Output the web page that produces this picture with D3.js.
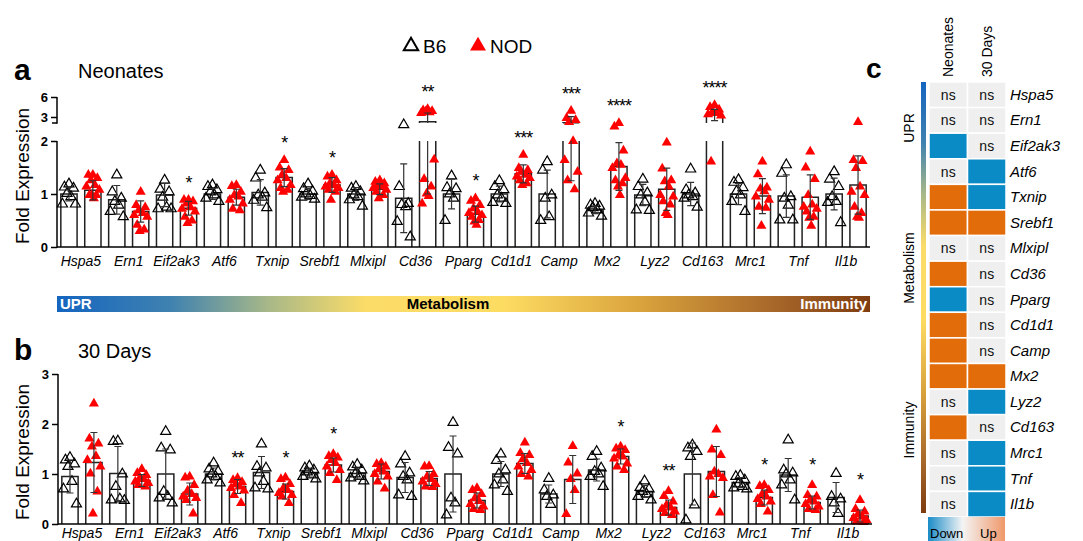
<!DOCTYPE html>
<html>
<head>
<meta charset="utf-8">
<script src="https://cdn.jsdelivr.net/npm/d3@7"></script>
<style>
  body { margin: 0; background: #fff; }
  svg { display: block; font-family: Arial, "Liberation Sans", sans-serif; }
</style>
</head>
<body>
<svg id="chart" width="1083" height="541"></svg>
<script>
const genes = ['Hspa5', 'Ern1', 'Eif2ak3', 'Atf6', 'Txnip', 'Srebf1', 'Mlxipl', 'Cd36', 'Pparg',
    'Cd1d1', 'Camp', 'Mx2', 'Lyz2', 'Cd163', 'Mrc1', 'Tnf', 'Il1b'];

// neonates
const neoB6Mean = [1.00, 0.89, 0.98, 1.00, 1.03, 1.00, 1.00, 0.92, 1.00, 1.00, 1.00, 0.70, 0.98, 1.00, 1.00, 0.96, 1.00];
const neoB6Sd = [0.13, 0.27, 0.22, 0.10, 0.24, 0.10, 0.12, 0.65, 0.28, 0.15, 0.45, 0.07, 0.20, 0.22, 0.20, 0.40, 0.30];
const neoNodMean = [1.07, 0.67, 0.73, 0.94, 1.31, 1.17, 1.09, 2.30, 0.62, 1.38, 2.15, 1.52, 1.09, 3.30, 0.96, 0.94, 1.17];
const neoNodSd = [0.18, 0.20, 0.13, 0.15, 0.17, 0.14, 0.10, 1.30, 0.15, 0.17, 0.90, 0.45, 0.40, 0.85, 0.33, 0.42, 0.55];
const neoB6Pts = [
    [1.19, 1.13, 1.11, 1.01, 0.95, 0.81, 0.81],
    [1.36, 1.04, 0.92, 0.86, 0.79, 0.67, 0.57],
    [1.26, 1.09, 1.04, 0.94, 0.75, 0.72, 0.72],
    [1.17, 1.14, 1.08, 1.04, 0.98, 0.92, 0.86],
    [1.45, 1.30, 1.02, 0.98, 0.94, 0.88, 0.74],
    [1.19, 1.10, 1.05, 1.00, 0.97, 0.94, 0.90],
    [1.14, 1.11, 1.04, 0.98, 0.95, 0.89, 0.77],
    [2.09, 1.14, 0.82, 0.80, 0.76, 0.48, 0.19],
    [1.34, 1.12, 1.10, 1.00, 0.92, 0.50],
    [1.25, 1.14, 1.08, 0.98, 0.92, 0.84, 0.82],
    [1.61, 1.45, 0.98, 0.92, 0.57, 0.50],
    [0.82, 0.79, 0.77, 0.74, 0.70, 0.64, 0.58],
    [1.28, 1.14, 1.02, 0.98, 0.85, 0.70, 0.69],
    [1.47, 1.08, 1.02, 0.98, 0.95, 0.92, 0.75],
    [1.27, 1.22, 1.12, 1.05, 0.98, 0.86, 0.67],
    [1.55, 1.39, 0.95, 0.92, 0.79, 0.51, 0.51],
    [1.42, 1.28, 1.14, 0.95, 0.86, 0.84, 0.46]
];
const neoNodPts = [
    [1.36, 1.36, 1.30, 1.26, 1.17, 1.14, 1.08, 0.98, 0.98, 0.98, 0.92],
    [1.04, 0.79, 0.75, 0.69, 0.64, 0.60, 0.57, 0.42, 0.33, 0.30],
    [0.89, 0.89, 0.86, 0.82, 0.75, 0.72, 0.67, 0.57, 0.50, 0.45],
    [1.17, 1.15, 1.04, 0.98, 0.95, 0.89, 0.82, 0.72, 0.69],
    [1.64, 1.50, 1.45, 1.36, 1.30, 1.26, 1.17, 1.11, 1.08, 1.04],
    [1.36, 1.33, 1.26, 1.20, 1.17, 1.14, 1.11, 1.08, 1.04, 0.89],
    [1.26, 1.23, 1.20, 1.17, 1.14, 1.11, 1.08, 1.04, 0.98, 0.92],
    [4.20, 4.00, 3.90, 3.80, 3.70, 3.60, 1.65, 1.28, 1.14, 1.01, 0.96, 0.82],
    [0.92, 0.87, 0.79, 0.73, 0.67, 0.64, 0.60, 0.57, 0.51, 0.48, 0.42],
    [1.74, 1.49, 1.45, 1.42, 1.36, 1.33, 1.30, 1.26, 1.20, 1.17],
    [3.94, 2.85, 2.55, 2.25, 2.00, 1.64, 1.42, 1.26, 1.09],
    [2.10, 2.08, 1.82, 1.58, 1.55, 1.49, 1.30, 1.26, 1.20, 1.14, 0.98],
    [1.97, 1.48, 1.26, 1.24, 1.14, 0.98, 0.95, 0.86, 0.80, 0.64, 0.60],
    [4.80, 4.50, 4.10, 3.80, 3.60, 3.40, 3.20, 1.61],
    [1.61, 1.37, 1.12, 1.10, 1.05, 0.95, 0.89, 0.76, 0.74, 0.40],
    [1.80, 1.50, 1.28, 0.98, 0.80, 0.76, 0.72, 0.67, 0.57, 0.55, 0.40],
    [2.25, 1.64, 1.62, 1.49, 1.14, 1.04, 0.98, 0.76, 0.64, 0.57, 0.55]
];
const neoStars = ['', '', '*', '', '*', '*', '', '**', '*', '***', '***', '****', '', '****', '', '', ''];

// 30 days
const d30B6Mean = [0.95, 1.01, 1.00, 1.00, 1.03, 1.03, 1.01, 0.93, 1.00, 1.00, 0.60, 1.08, 0.65, 1.00, 0.83, 0.98, 0.53];
const d30B6Sd = [0.33, 0.54, 0.50, 0.12, 0.32, 0.09, 0.11, 0.30, 0.76, 0.25, 0.18, 0.22, 0.12, 0.62, 0.10, 0.33, 0.30];
const d30NodMean = [1.23, 0.87, 0.60, 0.75, 0.65, 1.18, 1.05, 0.91, 0.47, 1.21, 0.89, 1.35, 0.33, 1.05, 0.53, 0.43, 0.16];
const d30NodSd = [0.60, 0.12, 0.22, 0.14, 0.15, 0.14, 0.15, 0.14, 0.15, 0.20, 0.48, 0.15, 0.15, 0.50, 0.15, 0.13, 0.12];
const d30B6Pts = [
    [1.33, 1.28, 1.20, 1.15, 0.85, 0.70, 0.40],
    [1.66, 1.65, 1.00, 0.75, 0.50, 0.48, 0.47],
    [1.85, 1.52, 1.48, 0.65, 0.55, 0.52, 0.42],
    [1.22, 1.10, 1.05, 1.00, 0.95, 0.88, 0.82],
    [1.60, 1.15, 1.12, 1.02, 0.85, 0.72, 0.70],
    [1.16, 1.12, 1.08, 1.04, 0.98, 0.95, 0.90],
    [1.19, 1.14, 1.08, 1.00, 0.95, 0.92, 0.86],
    [1.35, 1.20, 1.02, 0.95, 0.88, 0.58, 0.55],
    [2.03, 1.53, 1.40, 0.52, 0.42, 0.18],
    [1.40, 1.27, 1.08, 1.00, 0.88, 0.78, 0.65],
    [0.91, 0.68, 0.58, 0.55, 0.39],
    [1.45, 1.35, 1.12, 1.05, 1.00, 0.95, 0.75],
    [0.86, 0.73, 0.70, 0.65, 0.60, 0.55, 0.48],
    [1.58, 1.52, 1.45, 1.35, 0.38, 0.08],
    [0.97, 0.95, 0.88, 0.80, 0.75, 0.72, 0.70],
    [1.68, 1.08, 1.02, 1.00, 0.88, 0.78, 0.48],
    [1.01, 0.55, 0.50, 0.42, 0.21]
];
const d30NodPts = [
    [2.41, 1.71, 1.61, 1.55, 1.36, 1.28, 1.15, 1.01, 0.65, 0.21],
    [1.10, 1.02, 0.98, 0.92, 0.90, 0.85, 0.82, 0.78, 0.75],
    [0.95, 0.93, 0.78, 0.67, 0.60, 0.55, 0.52, 0.48, 0.21],
    [0.92, 0.88, 0.84, 0.80, 0.75, 0.72, 0.67, 0.58, 0.42],
    [0.93, 0.90, 0.80, 0.72, 0.68, 0.62, 0.58, 0.55, 0.42],
    [1.40, 1.36, 1.33, 1.28, 1.22, 1.15, 1.08, 1.02, 0.88],
    [1.22, 1.20, 1.15, 1.10, 1.05, 1.00, 0.95, 0.85, 0.71],
    [1.16, 1.15, 1.00, 0.95, 0.90, 0.85, 0.80, 0.75, 0.74],
    [0.72, 0.68, 0.60, 0.52, 0.46, 0.40, 0.35, 0.30, 0.28],
    [1.63, 1.42, 1.38, 1.30, 1.22, 1.15, 1.08, 1.00, 0.95],
    [1.56, 1.23, 1.01, 0.90, 0.68, 0.20],
    [1.55, 1.51, 1.48, 1.38, 1.35, 1.31, 1.21, 1.15, 1.08],
    [0.66, 0.56, 0.45, 0.38, 0.33, 0.30, 0.25, 0.22, 0.18],
    [1.89, 1.49, 1.38, 1.05, 1.00, 0.95, 0.92, 0.58, 0.23],
    [0.78, 0.76, 0.68, 0.60, 0.55, 0.50, 0.45, 0.40, 0.25],
    [0.78, 0.58, 0.55, 0.48, 0.45, 0.40, 0.35, 0.30, 0.28],
    [0.48, 0.30, 0.25, 0.20, 0.15, 0.12, 0.08, 0.05, 0.04]
];
const d30Stars = ['', '', '', '**', '*', '*', '', '', '', '', '', '*', '**', '', '*', '*', '*'];

// heatmap (c)
const heatCols = ['Neonates', '30 Days'];
const heatNeo = ['ns', 'ns', 'down', 'ns', 'up', 'up', 'ns', 'up', 'down', 'up', 'up', 'up', 'ns', 'up', 'ns', 'ns', 'ns'];
const heat30 = ['ns', 'ns', 'ns', 'down', 'down', 'up', 'ns', 'ns', 'ns', 'ns', 'ns', 'up', 'down', 'ns', 'down', 'down', 'down'];
const groupLabels = ['UPR', 'Metabolism', 'Immunity'];

const svg = d3.select('#chart');
const red = '#ff0000';
const narrow = "'Liberation Sans Narrow', 'Arial Narrow', Arial, sans-serif";
const defs = svg.append('defs');

// category gradient (blue -> yellow -> brown)
function catGradient(id, vertical) {
    const gr = defs.append('linearGradient').attr('id', id)
        .attr('x1', 0).attr('y1', 0).attr('x2', vertical ? 0 : 1).attr('y2', vertical ? 1 : 0);
    [[0, '#1565c0'], [0.14, '#3f82b0'], [0.26, '#a8b888'], [0.38, '#fbdc68'], [0.55, '#fddc62'],
     [0.72, '#d9a23c'], [0.88, '#a8682a'], [1, '#7f3c10']]
        .forEach(([o, c]) => gr.append('stop').attr('offset', o).attr('stop-color', c));
}
catGradient('catH', false);
catGradient('catV', true);

const jit = [0, -4.5, 4.5, -2, 2, -6.5, 6.5, -3.5, 3.5, -1, 1, -5.5];
const tri = d3.symbol().type(d3.symbolTriangle).size(44);

function drawPanel(p) {
    const g = svg.append('g');
    const keys = genes.flatMap(gn => [gn + '|B6', gn + '|NOD']);
    const x = d3.scaleBand().domain(keys).range(p.xRange).paddingInner(0.32).paddingOuter(0.16);
    const y = p.y;
    const bw = x.bandwidth();

    const bars = genes.flatMap((gn, i) => [
        { key: gn + '|B6', grp: 'B6', mean: p.b6Mean[i], sd: p.b6Sd[i], pts: p.b6Pts[i], star: '' },
        { key: gn + '|NOD', grp: 'NOD', mean: p.nodMean[i], sd: p.nodSd[i], pts: p.nodPts[i], star: p.stars[i] }
    ]);
    const cx = d => x(d.key) + bw / 2;

    // bars
    g.selectAll('.bar').data(bars).join('path')
        .attr('d', d => {
            const x0 = x(d.key), x1 = x0 + bw, y0 = y(0);
            if (p.gap && d.mean > p.gap[0]) {
                const yb = y(p.gap[0]), yt = y(p.gap[1]), ym = y(d.mean);
                return `M${x0},${y0}V${yb}M${x1},${yb}V${y0}M${x0},${yt}V${ym}H${x1}V${yt}`;
            }
            return `M${x0},${y0}V${y(d.mean)}H${x1}V${y0}`;
        })
        .attr('fill', 'white').attr('stroke', '#222').attr('stroke-width', 1.5);

    // points
    const pts = bars.flatMap(d => d.pts.map((v, i) => ({ grp: d.grp, v, x: cx(d) + jit[i % jit.length] })));
    g.selectAll('.pt').data(pts).join('path')
        .attr('d', tri)
        .attr('transform', d => `translate(${d.x},${y(d.v)})`)
        .attr('fill', d => d.grp === 'NOD' ? red : 'none')
        .attr('stroke', d => d.grp === 'NOD' ? 'none' : '#000')
        .attr('stroke-width', 1.2);

    // error bars
    g.selectAll('.err').data(bars).join('path')
        .attr('d', d => {
            const hi = d.mean + d.sd, lo = Math.max(0, d.mean - d.sd);
            const c = cx(d), w = 3.5, yh = y(hi), yl = y(lo);
            let s;
            if (p.gap && hi > p.gap[1] && lo < p.gap[0]) {
                s = `M${c},${yh}V${y(p.gap[1])}M${c},${y(p.gap[0])}V${yl}`;
            } else {
                s = `M${c},${yh}V${yl}`;
            }
            return s + `M${c - w},${yh}H${c + w}M${c - w},${yl}H${c + w}`;
        })
        .attr('fill', 'none').attr('stroke', '#333').attr('stroke-width', 1.2);

    // significance stars
    g.selectAll('.star').data(bars.filter(d => d.star)).join('text')
        .attr('x', cx)
        .attr('y', d => y(d3.max(d.pts)) - p.starGap + 10)
        .attr('text-anchor', 'middle')
        .attr('font-size', 18)
        .attr('letter-spacing', -1)
        .attr('fill', '#000')
        .text(d => d.star);

    // axes
    const ax = g.append('g').attr('transform', `translate(${p.xRange[0]},0)`)
        .call(d3.axisLeft(y).tickValues(p.ticks).tickFormat(d3.format('d')).tickSize(6).tickPadding(3));
    ax.select('.domain').remove();
    ax.attr('font-family', null).attr('font-size', null);
    ax.selectAll('text').attr('font-size', 13).attr('font-weight', 'bold').attr('fill', '#000');
    ax.selectAll('line').attr('stroke', '#000').attr('stroke-width', 1.5);
    p.axisSegs.forEach(([a, b]) => {
        g.append('line').attr('x1', p.xRange[0]).attr('x2', p.xRange[0])
            .attr('y1', y(a) + 0.75).attr('y2', y(b))
            .attr('stroke', '#000').attr('stroke-width', 1.5);
    });
    if (p.gap) {
        g.append('line').attr('x1', p.xRange[0] - 5).attr('x2', p.xRange[0])
            .attr('y1', y(p.gap[1])).attr('y2', y(p.gap[1]))
            .attr('stroke', '#000').attr('stroke-width', 1.5);
    }
    g.append('line').attr('x1', p.xRange[0]).attr('x2', p.xRange[1])
        .attr('y1', y(0)).attr('y2', y(0))
        .attr('stroke', '#000').attr('stroke-width', 1.5);

    // gene labels
    g.selectAll('.glab').data(genes).join('text')
        .attr('x', gn => (x(gn + '|B6') + x(gn + '|NOD') + bw) / 2)
        .attr('y', p.labelY)
        .attr('text-anchor', 'middle')
        .attr('font-size', 14)
        .attr('font-style', 'italic')
        .text(gn => gn);

    // y title
    g.append('text')
        .attr('transform', `translate(29,${p.titleY}) rotate(-90)`)
        .attr('text-anchor', 'middle')
        .attr('font-size', 19)
        .text('Fold Expression');

    // panel letter + name
    g.append('text').attr('x', 14).attr('y', p.headY).attr('font-size', 30).attr('font-weight', 'bold').text(p.letter);
    g.append('text').attr('x', 78).attr('y', p.headY - 2).attr('font-size', 20).text(p.name);
}

drawPanel({
    letter: 'a', name: 'Neonates', headY: 80,
    xRange: [57, 870],
    y: d3.scaleLinear().domain([0, 2, 2.1, 6]).range([247, 141, 123, 97]),
    gap: [2, 2.1],
    ticks: [0, 1, 2, 3, 6],
    axisSegs: [[0, 2], [2.1, 6]],
    b6Mean: neoB6Mean, b6Sd: neoB6Sd, nodMean: neoNodMean, nodSd: neoNodSd,
    b6Pts: neoB6Pts, nodPts: neoNodPts, stars: neoStars, starGap: 21,
    labelY: 266, titleY: 176
});

drawPanel({
    letter: 'b', name: '30 Days', headY: 360,
    xRange: [58, 872],
    y: d3.scaleLinear().domain([0, 3]).range([524, 374]),
    gap: null,
    ticks: [0, 1, 2, 3],
    axisSegs: [[0, 3]],
    b6Mean: d30B6Mean, b6Sd: d30B6Sd, nodMean: d30NodMean, nodSd: d30NodSd,
    b6Pts: d30B6Pts, nodPts: d30NodPts, stars: d30Stars, starGap: 24,
    labelY: 538, titleY: 452
});

// legend
const leg = svg.append('g').attr('font-size', 19);
leg.append('path').attr('d', d3.symbol().type(d3.symbolTriangle).size(90)()).attr('transform', 'translate(411,46)')
    .attr('fill', 'none').attr('stroke', '#000').attr('stroke-width', 2);
leg.append('text').attr('x', 423).attr('y', 53).text('B6');
leg.append('path').attr('d', d3.symbol().type(d3.symbolTriangle).size(110)()).attr('transform', 'translate(478,46)').attr('fill', red);
leg.append('text').attr('x', 490).attr('y', 53).text('NOD');

// category bar
svg.append('rect').attr('x', 57).attr('y', 296).attr('width', 813).attr('height', 16).attr('fill', 'url(#catH)');
const catTxt = svg.append('g').attr('font-family', narrow).attr('font-weight', 'bold').attr('font-size', 15);
catTxt.append('text').attr('x', 60).attr('y', 309).attr('fill', '#fff').text(groupLabels[0]);
catTxt.append('text').attr('x', 448).attr('y', 309).attr('text-anchor', 'middle').attr('fill', '#000').text(groupLabels[1]);
catTxt.append('text').attr('x', 867).attr('y', 309).attr('text-anchor', 'end').attr('fill', '#fff').text(groupLabels[2]);

// panel c
svg.append('text').attr('x', 866).attr('y', 78).attr('font-size', 28).attr('font-weight', 'bold').text('c');
const hx = d3.scaleBand().domain(heatCols).range([929, 1006]);
const hy = d3.scaleBand().domain(genes).range([82, 517]);
const heatColor = { ns: '#efefef', up: '#e36c0a', down: '#0b8bc5' };
const cells = genes.flatMap((gn, i) => [
    { gene: gn, col: heatCols[0], s: heatNeo[i] },
    { gene: gn, col: heatCols[1], s: heat30[i] }
]);
const hc = svg.append('g');
hc.selectAll('rect').data(cells).join('rect')
    .attr('x', d => hx(d.col)).attr('y', d => hy(d.gene))
    .attr('width', hx.bandwidth()).attr('height', hy.bandwidth())
    .attr('fill', d => heatColor[d.s]).attr('stroke', '#fff').attr('stroke-width', 1.5);
hc.selectAll('.ns').data(cells.filter(d => d.s === 'ns')).join('text')
    .attr('x', d => hx(d.col) + hx.bandwidth() / 2)
    .attr('y', d => hy(d.gene) + hy.bandwidth() / 2 + 5)
    .attr('text-anchor', 'middle').attr('font-size', 14).attr('fill', '#111')
    .text('ns');
hc.selectAll('.hg').data(genes).join('text')
    .attr('x', 1010).attr('y', gn => hy(gn) + hy.bandwidth() / 2 + 5)
    .attr('font-size', 15).attr('font-style', 'italic').text(gn => gn);
hc.selectAll('.hcol').data(heatCols).join('text')
    .attr('transform', c => `translate(${hx(c) + hx.bandwidth() / 2 + 5},77) rotate(-90)`)
    .attr('font-size', 14).text(c => c);

svg.append('rect').attr('x', 921).attr('y', 82).attr('width', 5).attr('height', 431).attr('fill', 'url(#catV)');
[128, 268, 430].forEach((cy, i) => {
    svg.append('text').attr('transform', `translate(914,${cy}) rotate(-90)`)
        .attr('text-anchor', 'middle').attr('font-size', 14).text(groupLabels[i]);
});

// down / up legend
const du = defs.append('linearGradient').attr('id', 'downUp');
[[0, '#1a8cc8'], [0.45, '#f4f4f4'], [1, '#f0986a']]
    .forEach(([o, c]) => du.append('stop').attr('offset', o).attr('stop-color', c));
svg.append('rect').attr('x', 928).attr('y', 517).attr('width', 77).attr('height', 24).attr('fill', 'url(#downUp)');
svg.append('text').attr('x', 930).attr('y', 538).attr('font-size', 13).text('Down');
svg.append('text').attr('x', 980).attr('y', 538).attr('font-size', 13).text('Up');
</script>
</body>
</html>
